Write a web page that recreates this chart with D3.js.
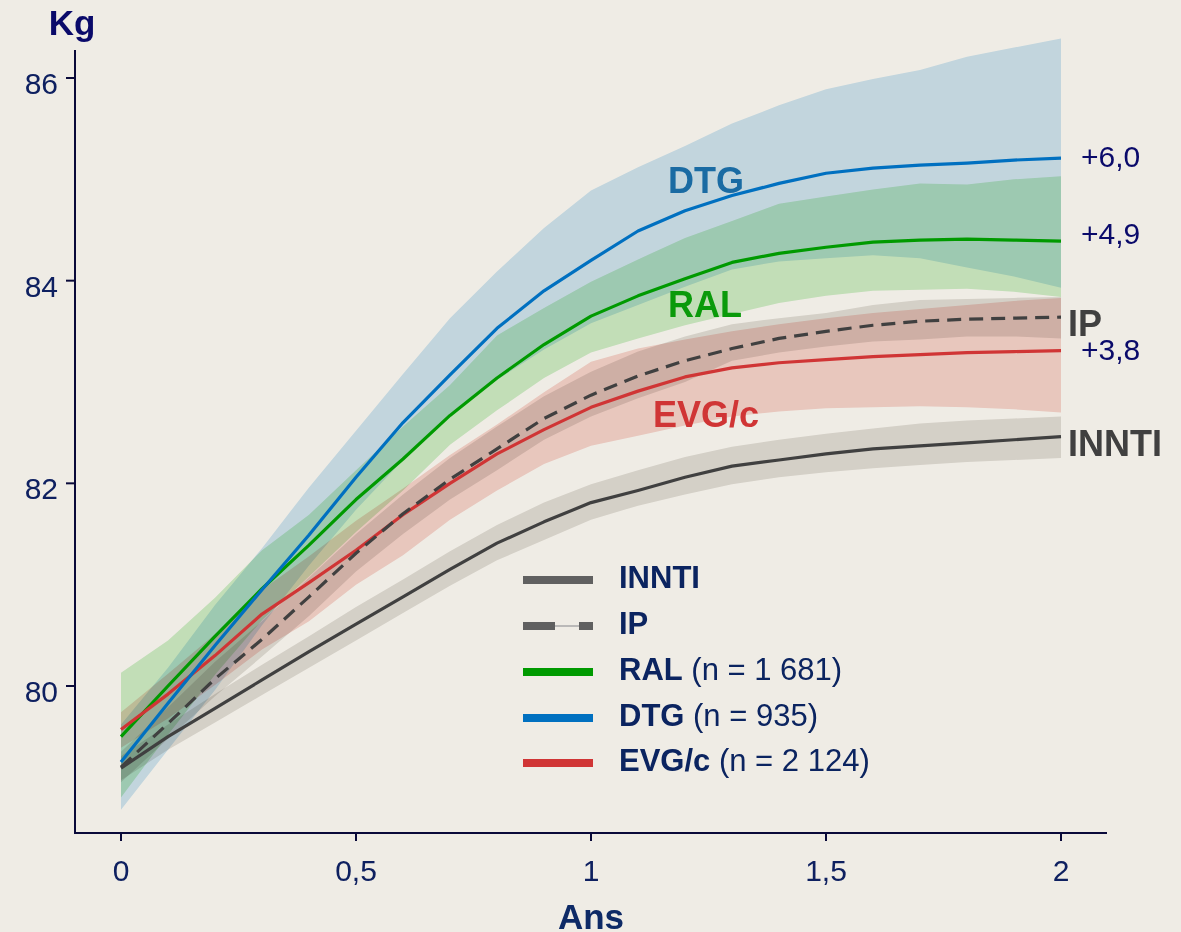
<!DOCTYPE html>
<html>
<head>
<meta charset="utf-8">
<script src="https://cdn.jsdelivr.net/npm/d3@7/dist/d3.min.js"></script>
<style>
  html, body { margin: 0; padding: 0; background: #EFECE5; }
  svg { display: block; font-family: "Liberation Sans", Arial, sans-serif; }
</style>
</head>
<body>
<svg id="chart" width="1181" height="932"></svg>
<script>
// ---------- DATA ----------
const years = [0, 0.1, 0.2, 0.3, 0.4, 0.5, 0.6, 0.7, 0.8, 0.9, 1.0, 1.1, 1.2, 1.3, 1.4, 1.5, 1.6, 1.7, 1.8, 1.9, 2.0];

const inntiMean  = [79.19, 79.50, 79.78, 80.06, 80.34, 80.61, 80.88, 81.15, 81.41, 81.62, 81.81, 81.93, 82.06, 82.17, 82.23, 82.29, 82.34, 82.37, 82.40, 82.43, 82.46];
const inntiUpper = [79.31, 79.62, 79.92, 80.21, 80.49, 80.78, 81.05, 81.33, 81.59, 81.81, 81.99, 82.13, 82.26, 82.36, 82.43, 82.49, 82.54, 82.59, 82.62, 82.64, 82.66];
const inntiLower = [79.07, 79.37, 79.64, 79.91, 80.18, 80.45, 80.72, 80.99, 81.24, 81.44, 81.64, 81.78, 81.89, 81.99, 82.06, 82.11, 82.15, 82.18, 82.21, 82.23, 82.25];

const ipMean  = [79.20, 79.63, 80.07, 80.46, 80.88, 81.31, 81.70, 82.04, 82.34, 82.64, 82.87, 83.06, 83.21, 83.33, 83.43, 83.50, 83.56, 83.60, 83.62, 83.63, 83.64];
const ipUpper = [79.35, 79.79, 80.24, 80.64, 81.07, 81.50, 81.89, 82.25, 82.56, 82.86, 83.10, 83.30, 83.45, 83.57, 83.63, 83.68, 83.76, 83.81, 83.82, 83.83, 83.84];
const ipLower = [79.05, 79.48, 79.90, 80.29, 80.69, 81.13, 81.50, 81.84, 82.13, 82.43, 82.66, 82.84, 83.00, 83.21, 83.29, 83.35, 83.40, 83.42, 83.45, 83.45, 83.43];

const ralMean  = [79.50, 80.00, 80.49, 80.96, 81.39, 81.84, 82.24, 82.67, 83.04, 83.37, 83.65, 83.85, 84.02, 84.18, 84.27, 84.33, 84.38, 84.40, 84.41, 84.40, 84.39];
const ralUpper = [80.13, 80.45, 80.87, 81.34, 81.69, 82.13, 82.56, 82.97, 83.46, 83.73, 83.99, 84.21, 84.42, 84.59, 84.76, 84.83, 84.90, 84.96, 84.95, 85.00, 85.03];
const ralLower = [78.90, 79.52, 80.11, 80.65, 81.08, 81.52, 81.93, 82.38, 82.72, 83.04, 83.29, 83.43, 83.56, 83.67, 83.78, 83.85, 83.90, 83.91, 83.92, 83.89, 83.84];

const dtgMean  = [79.25, 79.83, 80.40, 80.95, 81.49, 82.06, 82.60, 83.07, 83.53, 83.90, 84.20, 84.49, 84.69, 84.84, 84.96, 85.06, 85.11, 85.14, 85.16, 85.19, 85.21];
const dtgUpper = [79.62, 80.18, 80.80, 81.36, 81.96, 82.52, 83.08, 83.63, 84.09, 84.52, 84.89, 85.12, 85.33, 85.55, 85.73, 85.89, 85.99, 86.08, 86.21, 86.30, 86.39];
const dtgLower = [78.78, 79.37, 79.96, 80.60, 81.19, 81.74, 82.23, 82.69, 83.02, 83.32, 83.58, 83.76, 83.94, 84.11, 84.19, 84.22, 84.25, 84.22, 84.13, 84.04, 83.93];

const evgMean  = [79.57, 79.92, 80.30, 80.71, 81.02, 81.34, 81.69, 82.00, 82.29, 82.53, 82.75, 82.91, 83.05, 83.14, 83.19, 83.22, 83.25, 83.27, 83.29, 83.30, 83.31];
const evgUpper = [79.74, 80.12, 80.51, 80.95, 81.28, 81.63, 81.95, 82.28, 82.58, 82.90, 83.20, 83.33, 83.42, 83.50, 83.57, 83.63, 83.68, 83.72, 83.76, 83.80, 83.83];
const evgLower = [79.39, 79.68, 80.01, 80.36, 80.64, 81.00, 81.29, 81.64, 81.93, 82.19, 82.37, 82.47, 82.57, 82.66, 82.71, 82.74, 82.75, 82.76, 82.75, 82.73, 82.70];

const xTicks = [0, 0.5, 1, 1.5, 2];
const xTickLabels = ["0", "0,5", "1", "1,5", "2"];
const yTicks = [80, 82, 84, 86];
const yTickLabels = ["80", "82", "84", "86"];

const endLabels = [
  { text: "+6,0", value: 85.21, kind: "diff" },
  { text: "+4,9", value: 84.45, kind: "diff" },
  { text: "IP", value: 83.64, kind: "name" },
  { text: "+3,8", value: 83.31, kind: "diff" },
  { text: "INNTI", value: 82.46, kind: "name" }
];

const legendNames = ["INNTI", "IP", "RAL", "DTG", "EVG/c"];
const legendCounts = ["", "", " (n = 1 681)", " (n = 935)", " (n = 2 124)"];

// ---------- SETUP ----------
const svg = d3.select("#chart");
const W = 1181, H = 932;
svg.append("rect").attr("width", W).attr("height", H).attr("fill", "#EFECE5");

const x = d3.scaleLinear().domain([0, 2]).range([121, 1061]);
const y = d3.scaleLinear().domain([80, 86]).range([686, 78]);

const navy = "#0E2060";

const series = [
  { name: "INNTI", mean: inntiMean, up: inntiUpper, lo: inntiLower, line: "#404040", band: "#E3E1DE", dash: null },
  { name: "IP",    mean: ipMean,    up: ipUpper,    lo: ipLower,    line: "#404040", band: "#E3E1DE", dash: "14,8" },
  { name: "RAL",   mean: ralMean,   up: ralUpper,   lo: ralLower,   line: "#009A00", band: "#CFF0CC", dash: null },
  { name: "DTG",   mean: dtgMean,   up: dtgUpper,   lo: dtgLower,   line: "#0070C0", band: "#CFE7F7", dash: null },
  { name: "EVG/c", mean: evgMean,   up: evgUpper,   lo: evgLower,   line: "#D03535", band: "#F8D7D3", dash: null }
];

// ---------- BANDS ----------
const area = d3.area()
  .x((d, i) => x(years[i]))
  .y0(d => y(d[0]))
  .y1(d => y(d[1]));

const bandG = svg.append("g");
series.forEach(s => {
  const pts = years.map((t, i) => [s.lo[i], s.up[i]]);
  bandG.append("path")
    .attr("d", area(pts))
    .attr("fill", s.band)
    .style("mix-blend-mode", "multiply");
});

// ---------- LINES ----------
const line = d3.line().x((d, i) => x(years[i])).y(d => y(d));
const drawOrder = ["INNTI", "RAL", "EVG/c", "DTG", "IP"];
drawOrder.forEach(n => {
  const s = series.find(q => q.name === n);
  svg.append("path")
    .attr("d", line(s.mean))
    .attr("fill", "none")
    .attr("stroke", s.line)
    .attr("stroke-width", 3.2)
    .attr("stroke-dasharray", s.dash)
    .attr("stroke-linejoin", "round");
});

// ---------- AXES ----------
const axisColor = "#0A0A3A";
const xAxis = svg.append("g").attr("transform", "translate(0,833)");
xAxis.append("line").attr("x1", 75).attr("x2", 1107).attr("y1", 0).attr("y2", 0)
  .attr("stroke", axisColor).attr("stroke-width", 2);
xTicks.forEach((t, i) => {
  xAxis.append("line").attr("x1", x(t)).attr("x2", x(t)).attr("y1", 0).attr("y2", 8)
    .attr("stroke", axisColor).attr("stroke-width", 2);
  xAxis.append("text").attr("x", x(t)).attr("y", 48)
    .attr("text-anchor", "middle").attr("font-size", 30).attr("fill", navy)
    .text(xTickLabels[i]);
});
svg.append("text").attr("x", x(1)).attr("y", 929).attr("text-anchor", "middle")
  .attr("font-size", 35).attr("font-weight", "bold").attr("fill", "#0E2A66").text("Ans");

const yAxis = svg.append("g");
yAxis.append("line").attr("x1", 75).attr("x2", 75).attr("y1", 50).attr("y2", 834)
  .attr("stroke", axisColor).attr("stroke-width", 2);
yTicks.forEach((v, i) => {
  yAxis.append("line").attr("x1", 66).attr("x2", 75).attr("y1", y(v)).attr("y2", y(v))
    .attr("stroke", axisColor).attr("stroke-width", 2);
  yAxis.append("text").attr("x", 58).attr("y", y(v) + 16)
    .attr("text-anchor", "end").attr("font-size", 30).attr("fill", navy)
    .text(yTickLabels[i]);
});
svg.append("text").attr("x", 72).attr("y", 35).attr("text-anchor", "middle")
  .attr("font-size", 35).attr("font-weight", "bold").attr("fill", "#0A0A6A").text("Kg");

// ---------- IN-CHART LABELS ----------
svg.append("text").attr("x", 668).attr("y", 193).attr("font-size", 36).attr("font-weight", "bold")
  .attr("fill", "#1A6BA3").text("DTG");
svg.append("text").attr("x", 668).attr("y", 317).attr("font-size", 36).attr("font-weight", "bold")
  .attr("fill", "#0A9A0A").text("RAL");
svg.append("text").attr("x", 653).attr("y", 427).attr("font-size", 36).attr("font-weight", "bold")
  .attr("fill", "#D03535").text("EVG/c");

// ---------- END LABELS ----------
endLabels.forEach(l => {
  const t = svg.append("text");
  if (l.kind === "diff") {
    t.attr("x", 1081).attr("y", y(l.value) + 9).attr("font-size", 30).attr("fill", "#0A0A6A");
  } else {
    t.attr("x", 1068).attr("y", y(l.value) + 19).attr("font-size", 36).attr("font-weight", "bold").attr("fill", "#404040");
  }
  t.text(l.text);
});

// ---------- LEGEND ----------
const legColors = ["#606060", "#606060", "#009A00", "#0070C0", "#D03535"];
const legY = [580, 626, 672, 718, 763];
const leg = svg.append("g");
legendNames.forEach((n, i) => {
  const yy = legY[i];
  if (n === "IP") {
    leg.append("line").attr("x1", 523).attr("x2", 593).attr("y1", yy).attr("y2", yy)
      .attr("stroke", "#A8A8A8").attr("stroke-width", 1.5);
    leg.append("line").attr("x1", 523).attr("x2", 555).attr("y1", yy).attr("y2", yy)
      .attr("stroke", legColors[i]).attr("stroke-width", 8);
    leg.append("line").attr("x1", 579).attr("x2", 593).attr("y1", yy).attr("y2", yy)
      .attr("stroke", legColors[i]).attr("stroke-width", 8);
  } else {
    leg.append("line").attr("x1", 523).attr("x2", 593).attr("y1", yy).attr("y2", yy)
      .attr("stroke", legColors[i]).attr("stroke-width", 8);
  }
  const tx = leg.append("text").attr("x", 619).attr("y", yy + 8).attr("font-size", 31).attr("fill", "#0B2460");
  tx.append("tspan").attr("font-weight", "bold").text(n);
  if (legendCounts[i]) tx.append("tspan").text(legendCounts[i]);
});
</script>
</body>
</html>
